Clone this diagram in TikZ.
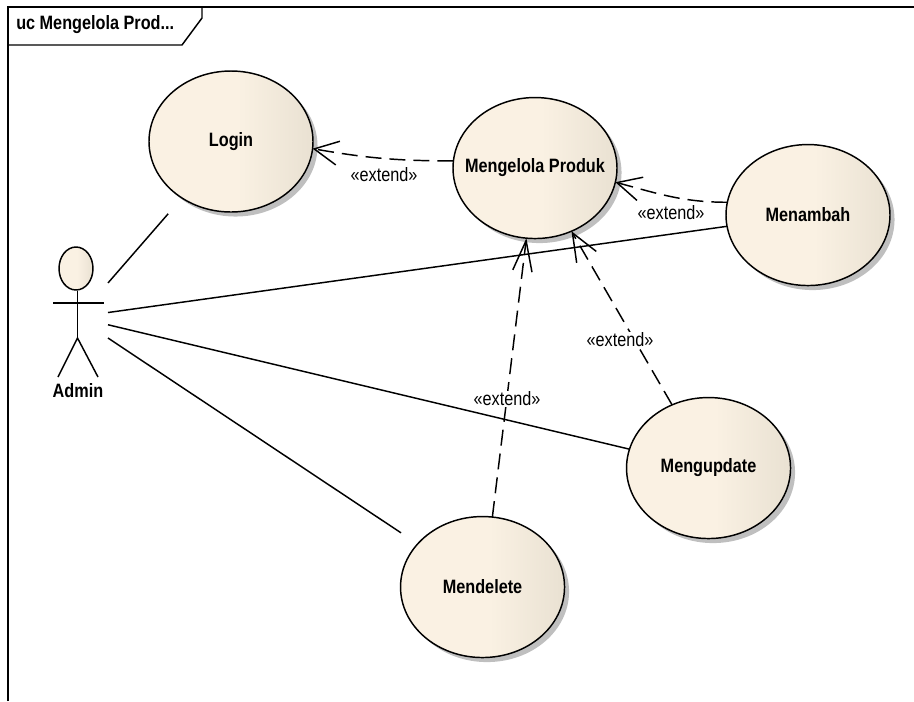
\documentclass[tikz,border=0pt]{standalone}
\usepackage{fontspec}
\setmainfont{Liberation Sans}[FakeStretch=0.84]
\usetikzlibrary{arrows.meta, positioning, shadows, shapes.geometric}

\definecolor{caselight}{HTML}{FAF1E3}
\definecolor{casedark}{HTML}{E9E1D2}
\pgfdeclarehorizontalshading{caseshade}{100bp}{color(0bp)=(caselight); color(25bp)=(caselight); color(52bp)=(caselight); color(75bp)=(casedark); color(100bp)=(casedark)}

\begin{document}
\begin{tikzpicture}[
      x=0.75pt, y=-0.75pt,
      font=\fontsize{14.5}{16}\selectfont,
      usecase/.style={ellipse, draw, line width=1.1pt, inner sep=0pt, outer sep=0pt, shading=caseshade, minimum width=123pt, minimum height=105.75pt, font=\fontsize{14.5}{16}\selectfont\bfseries, drop shadow={shadow xshift=3.4pt, shadow yshift=-3.4pt, opacity=1, fill=black!25}},
      line/.style={line width=1.1pt},
      assoc/.style={line width=1.1pt},
      extendarrow/.style n args={2}{line width=1.1pt, dash pattern=on 12pt off 6pt, -{Straight Barb[length=#1, width=#2]}},
      stereo/.style={fill=white, inner sep=1pt}
    ]
      \useasboundingbox (0,0) rectangle (914,701);

      % frame and its tab
      \draw [line] (8,701) -- (8,7) -- (914,7);
      \draw [line] (8,45) -- (182,45) -- (202,18) -- (202,7);
      \node (title) [anchor=west, inner sep=0pt, font=\fontsize{14.5}{16}\selectfont\bfseries] at (16,25) {uc Mengelola Prod...};

      \node (login) [usecase] at (231,141.5) {Login};
      \node (mengelola) [usecase, right=105pt of login, yshift=-19.9pt] {\makebox[0pt]{Mengelola Produk}};
      \node (menambah) [usecase, right=81.75pt of mengelola, yshift=-35.25pt] {Menambah};
      \node (mengupdate) [usecase, below=84pt of menambah, xshift=-74.6pt] {Mengupdate};
      \node (mendelete) [usecase, left=46.5pt of mengupdate, yshift=-89.25pt] {Mendelete};

      % actor
      \node (adminhead) [ellipse, draw, line width=1.1pt, inner sep=0pt, shading=caseshade, minimum width=25.5pt, minimum height=32.25pt] at (76,268.5) {};
      \node (admin) [minimum width=45pt, minimum height=120pt, inner sep=0pt, outer sep=0pt] at (78,320) {};
      \node (adminlabel) [inner sep=0pt, font=\fontsize{14.5}{16}\selectfont\bfseries] at (78,391) {Admin};
      \coordinate (neck) at (77.5,291);
      \coordinate (hip) at (77.5,338);
      \coordinate (handleft) at (53,303);
      \coordinate (handright) at (104,303);
      \coordinate (footleft) at (58,377);
      \coordinate (footright) at (98,377);
      \draw [line] (neck) -- (hip);
      \draw [line] (handleft) -- (handright);
      \draw [line] (footleft) -- (hip) -- (footright);

      \draw [assoc, shorten >=15.7pt] (admin.51.7) -- (login);
      \draw [assoc] (admin.14.9) -- (menambah);
      \draw [assoc] (admin.-9.5) -- (mengupdate);
      \draw [assoc, shorten >=15pt] (admin.-31) -- (mendelete);

      \draw [extendarrow={18pt}{18pt}] (mengelola.175.8) to[out=180, in=-10] (login.-5.1);
      \draw [extendarrow={18pt}{18pt}] (menambah.171.7) to[out=180, in=-15] (mengelola.-10.3);
      \draw [extendarrow={21pt}{17pt}] (mengupdate.120.6) -- (mengelola.-60.9);
      \draw [extendarrow={23pt}{14.5pt}] (mendelete.82.7) -- (mengelola.-97.4);

      \node (extendlogin) [stereo] at (384,175) {«extend»};
      \node (extendmenambah) [stereo] at (671,213) {«extend»};
      \node (extendmengupdate) [stereo] at (620,340) {«extend»};
      \node (extendmendelete) [stereo] at (507,399) {«extend»};
    \end{tikzpicture}
\end{document}
